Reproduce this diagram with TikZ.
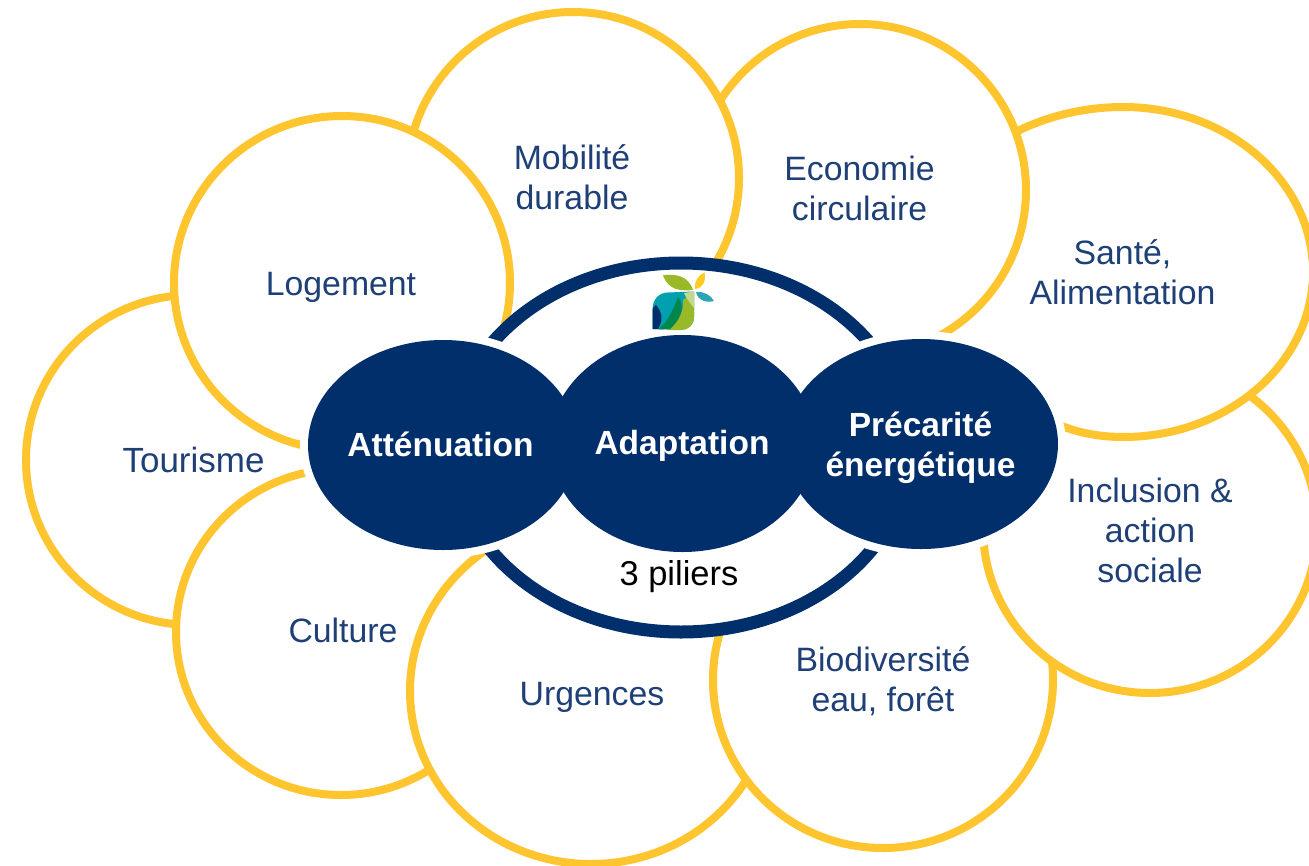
\documentclass[tikz,border=0pt]{standalone}
\usepackage{fontspec}
\setmainfont{Liberation Sans}
\usetikzlibrary{shapes.geometric}
\definecolor{navy}{HTML}{002F6C}
\definecolor{sun}{HTML}{FFC52F}
\definecolor{ink}{HTML}{1F3F77}
\definecolor{logoolive}{HTML}{9AB928}
\definecolor{logopale}{HTML}{C3D88C}
\definecolor{logoyellow}{HTML}{FFCC1F}
\definecolor{logoteal}{HTML}{2AA5B5}
\definecolor{logobody}{HTML}{00A0AF}
\definecolor{logogreen}{HTML}{008750}
\tikzset{
 petal/.style={ellipse,draw=sun,line width=8pt,fill=white,inner sep=0pt},
 petaltext/.style={text=ink,align=center,inner sep=0pt,font=\fontsize{33.8}{40}\selectfont},
 pillar/.style={ellipse,fill=navy,inner sep=0pt},
 pillartext/.style={text=white,align=center,inner sep=0pt,font=\fontsize{33.5}{40}\selectfont\bfseries},
 halo/.style={ellipse,draw=white,line width=16pt,fill=white,inner sep=0pt},
 ringshape/.style={ellipse,draw=navy,line width=13pt,fill=white,inner sep=0pt},
}
\begin{document}
\begin{tikzpicture}[x=1pt,y=-1pt]
\useasboundingbox (0,0) rectangle (1309,865);
\fill[white] (0,0) rectangle (1309,865);
\node[petal,minimum width=332pt,minimum height=330pt] (tourisme) at (192,460) {};
\node[petal,minimum width=330pt,minimum height=326pt] (culture) at (341,632) {};
\node[petal,minimum width=362pt,minimum height=346pt] (urgences) at (591,691) {};
\node[petal,minimum width=340pt,minimum height=336pt] (biodiv) at (883,680) {};
\node[petal,minimum width=334pt,minimum height=330pt] (inclusion) at (1150,528) {};
\draw[sun,line width=8pt,fill=white] (1045,418) .. controls (1068,431) and (1095,437) .. (1123,437)
  .. controls (1228,437) and (1313,363) .. (1313,272)
  .. controls (1313,181) and (1228,107) .. (1123,107)
  .. controls (1085,107) and (1045,116) .. (1010,135);
\node[petal,minimum width=332pt,minimum height=332pt] (economie) at (860,190) {};
\node[petal,minimum width=332pt,minimum height=332pt] (mobilite) at (573,178) {};
\node[petal,minimum width=336pt,minimum height=334pt] (logement) at (342,283) {};
\node[ringshape,minimum width=458pt,minimum height=369pt] (ring) at (681,447.5) {};
\node[halo,minimum width=270pt,minimum height=210pt] (h1) at (443,445) {};
\node[halo,minimum width=266pt,minimum height=217pt] (h2) at (682.5,443.5) {};
\node[halo,minimum width=274pt,minimum height=210pt] (h3) at (921,444) {};
\node[pillar,minimum width=270pt,minimum height=210pt] (attenuation) at (443,445) {};
\node[pillar,minimum width=274pt,minimum height=210pt] (precarite) at (921,444) {};
\node[pillar,minimum width=266pt,minimum height=217pt] (adaptation) at (682.5,443.5) {};
% labels
\node[petaltext,font=\fontsize{35}{40}\selectfont] (t1) at (193.5,460) {Tourisme};
\node[petaltext] (t2) at (343,630) {Culture};
\node[petaltext] (t3) at (592,697) {Urgences};
\node[petaltext] (t4) at (883,681) {Biodiversité\\eau, forêt};
\node[petaltext] (t5) at (1150,530) {Inclusion \&\\action\\sociale};
\node[petaltext] (t6) at (1122.5,272.5) {Santé,\\Alimentation};
\node[petaltext] (t7) at (859.5,188) {Economie\\circulaire};
\node[petaltext] (t8) at (572,177) {Mobilité\\durable};
\node[petaltext] (t9) at (341,287) {Logement};
\node[pillartext] (p1) at (440.5,444) {Atténuation};
\node[pillartext] (p2) at (682,446) {Adaptation};
\node[pillartext] (p3) at (920.5,448) {Précarité\\énergétique};
\node[text=black,inner sep=0pt,font=\fontsize{34.5}{40}\selectfont] (piliers) at (679,577) {3 piliers};
% logo
\fill[logoolive] (663,275) .. controls (675,274) and (688,275) .. (693,290) .. controls (682,291) and (668,291) .. (663,275) -- cycle;
\fill[logoyellow] (695,289) .. controls (694,282) and (698,275) .. (704.5,272.5) .. controls (706,280) and (704,288) .. (695,289) -- cycle;
\fill[logoteal] (696,292) .. controls (703,291) and (711,295) .. (714,301) .. controls (707,303) and (698,301) .. (696,292) -- cycle;
\fill[logobody] (652.5,329) -- (652.5,310) .. controls (652.5,298) and (660,292.5) .. (668,292.5) -- (694,291.5) -- (694,317) .. controls (694,325) and (688,330) .. (681,330) -- cycle;
\fill[logoolive] (668,330) .. controls (680,320) and (684,310) .. (683,300) -- (694,292) -- (694,317) .. controls (694,325) and (688,330) .. (681,330) -- cycle;
\fill[logopale] (684,293) -- (694,291.5) -- (694,308) .. controls (690,303) and (686,298) .. (684,293) -- cycle;
\fill[logogreen] (658,329.5) .. controls (668,322) and (674,308) .. (678,297) .. controls (684,304) and (684,316) .. (670,329) -- cycle;
\fill[navy] (652.5,329) -- (652.5,310) .. controls (652.5,308) and (654,306) .. (656,305) .. controls (660,310) and (665,318) .. (658,329) -- cycle;
\end{tikzpicture}
\end{document}
